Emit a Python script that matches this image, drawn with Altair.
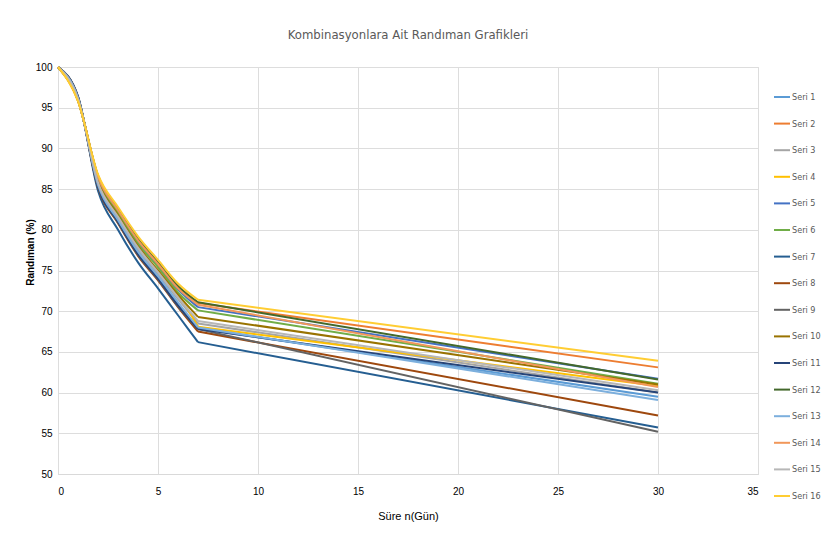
import altair as alt
import pandas as pd

days = [0, 1, 2, 3, 4, 5, 6, 7, 30]

series_names = [f"Seri {i}" for i in range(1, 17)]

seri_1 = [100, 96.2, 85.4, 81.1, 77.2, 74.2, 70.9, 67.9, 59.5]
seri_2 = [100, 95.9, 86.6, 82.5, 78.8, 75.9, 72.9, 71.0, 63.1]
seri_3 = [100, 96.1, 85.7, 81.5, 77.6, 74.6, 71.5, 68.5, 60.0]
seri_4 = [100, 95.8, 86.7, 82.6, 78.9, 75.8, 72.2, 68.1, 60.8]
seri_5 = [100, 95.9, 86.4, 82.3, 78.6, 75.7, 72.7, 70.5, 61.7]
seri_6 = [100, 96.0, 86.2, 82.1, 78.3, 75.4, 72.3, 70.1, 61.1]
seri_7 = [100, 96.4, 84.8, 80.0, 76.0, 72.8, 69.5, 66.2, 55.7]
seri_8 = [100, 96.3, 85.2, 80.8, 76.8, 73.8, 70.5, 67.5, 57.2]
seri_9 = [100, 96.3, 85.3, 80.9, 76.9, 73.9, 70.6, 67.8, 55.2]
seri_10 = [100, 96.1, 86.0, 81.8, 78.0, 75.0, 72.0, 69.3, 61.0]
seri_11 = [100, 96.3, 85.3, 81.0, 77.0, 74.0, 70.7, 67.8, 60.0]
seri_12 = [100, 95.9, 86.6, 82.6, 79.0, 76.0, 73.1, 71.1, 61.6]
seri_13 = [100, 96.2, 85.5, 81.2, 77.3, 74.3, 71.1, 68.0, 59.1]
seri_14 = [100, 95.9, 86.5, 82.4, 78.7, 75.8, 72.8, 70.8, 60.7]
seri_15 = [100, 96.1, 85.8, 81.6, 77.8, 74.8, 71.7, 68.8, 60.3]
seri_16 = [100, 95.8, 86.8, 82.8, 79.2, 76.3, 73.4, 71.4, 63.9]

all_series = [seri_1, seri_2, seri_3, seri_4, seri_5, seri_6, seri_7, seri_8,
              seri_9, seri_10, seri_11, seri_12, seri_13, seri_14, seri_15, seri_16]

colors = ["#5B9BD5", "#ED7D31", "#A5A5A5", "#FFC000", "#4472C4", "#70AD47",
          "#255E91", "#9E480E", "#636363", "#997300", "#264478", "#43682B",
          "#7CAFDD", "#F1975A", "#B7B7B7", "#FFCD33"]

x_ticks = [0, 5, 10, 15, 20, 25, 30, 35]
y_ticks = [50, 55, 60, 65, 70, 75, 80, 85, 90, 95, 100]

rows = []
for si, (name, vals) in enumerate(zip(series_names, all_series)):
    for d, v in zip(days, vals):
        rows.append({"seri": name, "order": si, "gun": d, "randiman": v})
df = pd.DataFrame(rows)

FONT = "Liberation Sans Narrow, DejaVu Sans Condensed, Liberation Sans, sans-serif"
TXT = "#595959"

x_enc = alt.X("gun:Q",
              scale=alt.Scale(domain=[0, 35], nice=False),
              axis=alt.Axis(values=x_ticks, title="Süre n(Gün)", grid=True,
                            ticks=False, labelPadding=12, titlePadding=14,
                            titleFontWeight="normal", domainColor="#d9d9d9"))
y_enc = alt.Y("randiman:Q",
              scale=alt.Scale(domain=[50, 100], nice=False, zero=False),
              axis=alt.Axis(values=y_ticks, title="Randıman (%)", grid=True,
                            ticks=False, domain=False, labelPadding=6,
                            titleX=-28, titleY=185, titleFontWeight="bold",
                            titleFontSize=10,
                            titleAlign="center", titleBaseline="middle"))
color_enc = alt.Color("seri:N",
                      scale=alt.Scale(domain=series_names, range=colors),
                      legend=alt.Legend(title=None, orient="none",
                                        legendX=715, legendY=21,
                                        symbolType="stroke", symbolSize=256,
                                        symbolStrokeWidth=2, rowPadding=12.6,
                                        labelFontSize=9, labelColor=TXT,
                                        labelFont=FONT, labelOffset=1,
                                        padding=0))

base = alt.Chart(df).encode(
    x=x_enc,
    y=y_enc,
    color=color_enc,
    order=alt.Order("order:Q"),
    detail="seri:N",
)

curve_part = base.transform_filter(alt.datum.gun <= 7).mark_line(
    interpolate="monotone", strokeWidth=2)
straight_part = base.transform_filter(alt.datum.gun >= 7).mark_line(
    strokeWidth=2)

chart = (
    alt.layer(curve_part, straight_part)
    .properties(
        width=700,
        height=407,
        autosize=alt.AutoSizeParams(type="none"),
        padding={"left": 58, "top": 67, "right": 63, "bottom": 67},
        title=alt.TitleParams("Kombinasyonlara  Ait Randıman Grafikleri",
                              fontSize=13, font=FONT, fontWeight="normal",
                              color=TXT, offset=20, anchor="middle"),
    )
    .configure_view(stroke=None)
    .configure_axis(gridColor="#d9d9d9", gridWidth=1, labelColor=TXT,
                    titleColor=TXT, labelFont=FONT, titleFont=FONT,
                    labelFontSize=10, titleFontSize=10, titleFontWeight="normal")
    .configure(background="white")
)

chart.save("out.html", embed_options={"renderer": "svg", "actions": False})
